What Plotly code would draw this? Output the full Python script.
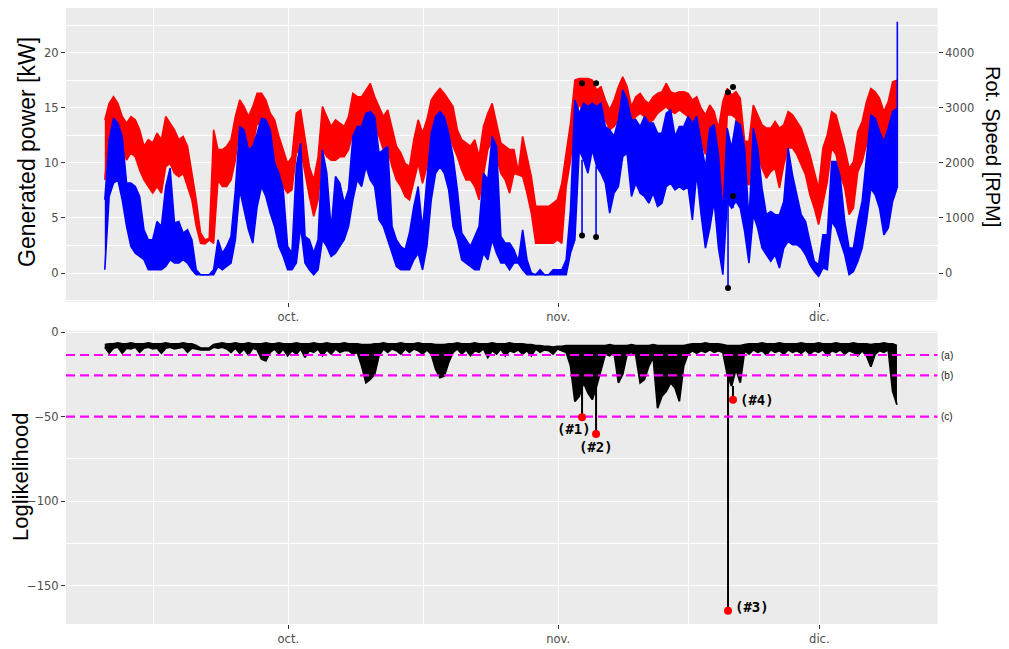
import numpy as np
import pandas as pd
import plotly.graph_objects as go

# ---------------------------------------------------------------------------
# Data: 12-hourly envelope (max / min) of the 10-minute turbine records
# ---------------------------------------------------------------------------
start = "2018-09-09 22:00"
n_steps = 183
times = pd.date_range(start, periods=n_steps, freq="12h")

# Generated power [kW]
power_hi = [
    6.65, 12.08, 14.05, 13.60, 12.39, 8.16, 8.16, 7.85, 6.95, 3.93,
    3.02, 3.02, 4.68, 4.23, 7.85, 9.52, 4.53, 4.68, 3.63, 3.93,
    3.02, 0.30, -0.15, -0.15, -0.15, 0.30, 3.02, 1.81, 2.42, 3.32,
    7.55, 13.29, 12.99, 11.18, 11.48, 12.69, 14.05, 13.90, 12.99, 9.97,
    9.06, 7.55, 2.42, 1.81, 9.67,
    11.78, 3.32, 3.02, 1.81, 3.02, 11.18, 9.06, 3.93, 8.76, 8.16,
    6.34, 7.55, 12.39, 13.29, 13.29, 14.50, 14.65, 14.20, 10.88, 11.18,
    11.48, 4.23, 3.02, 2.42, 2.11, 3.63, 6.04, 7.85, 3.93, 8.46,
    12.69, 14.20, 14.65, 14.20, 12.69, 10.57, 7.55, 3.63, 3.02, 2.42,
    3.32, 4.23, 9.06, 8.46, 12.39, 11.48,
    3.32, 2.72, 2.72, 2.11, 1.06, 3.93, 1.21, 0.00, -0.15, 0.30,
    -0.15, -0.15, 0.30, 0.30, 0.30, 1.21, 5.74, 15.71, 14.50, 15.41,
    15.11, 15.41, 15.11, 15.41, 13.29, 12.99, 12.39, 13.90, 16.62, 15.71,
    13.90, 13.90, 13.29, 14.20, 13.60, 13.60, 12.69, 12.69, 14.50, 14.80,
    12.39, 13.29, 13.29, 14.20, 13.60, 14.20,
    11.93, 9.52, 13.14, 13.44, 10.73, 5.29, 13.14, 11.33, 13.75, 13.44,
    11.33, 4.68, 13.14, 11.33, 7.70, 5.29, 5.59, 5.29, 5.29, 6.50,
    11.33, 8.91, 7.10, 5.29, 4.68, 2.87, 1.06, 0.76, 3.47, 3.47,
    10.12, 10.12, 8.61, 4.68, 2.27, 2.27, 4.68, 6.50, 10.73, 14.35,
    14.05, 12.84, 11.93, 13.14, 14.65, 14.95,
]
power_lo = [
    0.30, 6.95, 8.16, 8.46, 6.65, 4.23, 2.42, 1.81, 1.51, 1.21,
    0.30, 0.30, 0.30, 0.30, 0.60, 1.21, 0.91, 0.91, 1.21, 0.91,
    0.30, -0.15, -0.15, -0.15, -0.15, -0.15, 0.60, 0.30, 0.60, 0.91,
    3.02, 7.55, 5.74, 3.93, 2.72, 6.04, 7.85, 6.95, 5.44, 4.23,
    2.42, 1.51, 0.30, 0.30, 0.91,
    4.23, 0.91, 0.30, -0.15, 0.30, 3.02, 2.42, 1.51, 1.81, 2.42,
    3.02, 4.23, 6.65, 8.46, 7.85, 9.67, 8.46, 7.85, 4.83, 4.23,
    3.02, 1.81, 0.60, 0.30, 0.30, 0.30, 1.21, 1.81, 0.30, 2.42,
    6.65, 9.06, 9.67, 9.06, 7.55, 4.23, 3.02, 1.21, 0.91, 0.60,
    0.30, 0.30, 1.81, 1.21, 3.02, 1.81,
    0.91, 0.91, 0.30, 0.91, 0.91, 0.30, -0.15, -0.15, -0.15, -0.15,
    -0.15, -0.15, -0.15, -0.15, -0.15, -0.15, 1.81, 3.02, 11.18, 10.27,
    9.06, 11.18, 9.67, 9.06, 8.16, 5.44, 7.25, 7.85, 10.57, 10.88,
    6.95, 8.16, 7.25, 6.95, 6.34, 7.25, 6.04, 6.34, 7.85, 8.16,
    7.55, 7.85, 7.55, 7.85, 4.83, 9.06,
    5.29, 2.27, 4.08, 6.50, 2.27, -0.15, 6.50, 5.89, 6.50, 5.89,
    3.78, 0.91, 5.29, 4.08, 2.27, 1.66, 1.06, 1.66, 0.45, 2.27,
    2.87, 2.57, 2.57, 2.27, 1.66, 0.76, 0.15, -0.30, 0.45, 0.30,
    4.68, 4.08, 2.87, 1.66, -0.15, 0.15, 1.06, 2.27, 4.68, 7.70,
    7.10, 5.89, 3.47, 4.08, 6.50, 7.70,
]

# Rotor speed [RPM]
speed_hi = [
    2780, 3080, 3200, 3080, 2840, 2720, 2840, 2780, 2600, 2300,
    2420, 2360, 2540, 2420, 2840, 2720, 2600, 2420, 2480, 2300,
    1810, 1330, 730, 600, 630, 2600, 2240, 2240, 2300, 2420,
    2840, 3140, 3020, 2840, 3020, 3260, 3260, 3140, 2900, 2780,
    2480, 2240, 1990, 2110, 2900,
    2960, 2420, 1930, 1690, 2110, 3020, 2840, 2660, 2780, 2720,
    2660, 2840, 3260, 3200, 3200, 3320, 3440, 3200, 3020, 2840,
    2960, 2600, 2300, 2180, 1990, 1930, 2420, 2780, 2540, 2780,
    3140, 3260, 3350, 3260, 3140, 3020, 2600, 2420, 2360, 2300,
    2420, 2110, 2660, 2900, 3080, 2720,
    2360, 2300, 2240, 2240, 1840, 2480, 2110, 1750, 1210, 1210,
    1210, 1210, 1270, 1330, 1630, 2180, 2720, 3500, 3530, 3530,
    3530, 3500, 3320, 3380, 3140, 2960, 3140, 3380, 3560, 3380,
    3020, 3200, 3260, 3140, 3080, 3200, 3260, 3290, 3440, 3290,
    3260, 3290, 3290, 3260, 3140, 3200,
    2990, 2870, 3050, 2930, 2630, 3110, 3350, 3230, 3290, 3170,
    2390, 2390, 3050, 2870, 2690, 2630, 2630, 2750, 2630, 2690,
    2930, 2870, 2750, 2630, 2390, 2150, 1840, 1540, 2270, 2510,
    2930, 2870, 2570, 2270, 1900, 2020, 2570, 2750, 3110, 3350,
    3290, 3170, 2930, 3110, 3470, 3500,
]
speed_lo = [
    1690, 2540, 2720, 2600, 2300, 2050, 2180, 2110, 1870, 1690,
    1570, 1450, 1570, 1450, 1930, 1990, 1810, 1750, 1810, 1570,
    1330, 850, 540, 530, 600, 540, 1690, 1570, 1570, 1690,
    2050, 2720, 2420, 2240, 2300, 2720, 2660, 2540, 2240, 2110,
    1690, 1570, 1450, 1510, 2180,
    2240, 1810, 1390, 1030, 1330, 2240, 2110, 2050, 2050, 2110,
    2110, 2240, 2540, 2600, 2660, 2840, 2960, 2660, 2480, 2240,
    2240, 1930, 1690, 1570, 1390, 1330, 1690, 1990, 1630, 1930,
    2480, 2660, 2840, 2720, 2540, 2300, 2110, 1870, 1690, 1690,
    1570, 1330, 1750, 2240, 2420, 2110,
    1810, 1690, 1450, 1810, 1780, 1750, 1450, 1090, 540, 540,
    540, 540, 540, 600, 540, 1570, 2050, 2720, 3080, 2900,
    2960, 3020, 2780, 2900, 2780, 2600, 2660, 2780, 3020, 2960,
    2660, 2840, 2900, 2840, 2720, 2780, 2900, 2960, 3020, 2930,
    2900, 2960, 2900, 2840, 2720, 2660,
    2390, 2150, 2510, 2390, 1840, 1180, 2870, 2870, 2810, 2390,
    1660, 1600, 2270, 2150, 1900, 1720, 1840, 1900, 1540, 1960,
    2270, 2270, 2150, 1960, 1780, 1420, 1180, 880, 1300, 1660,
    2270, 2150, 1780, 1540, 1060, 1180, 1840, 2020, 2330, 2690,
    2630, 2390, 2210, 2390, 2870, 2870,
]

# Model log-likelihood
loglik_hi = [
    -7.5, -7, -7, -6.5, -7, -7, -6.5, -7, -7, -7,
    -6.5, -7, -7, -7, -6.5, -7, -7, -7, -6.5, -7,
    -7, -8, -9.5, -9.5, -9.5, -7.5, -7, -6.5, -7, -7,
    -6.5, -7, -7, -6.5, -7, -7, -7, -6.5, -7, -7,
    -6.5, -7, -7, -7, -6.5, -7, -7, -7, -6.5, -7,
    -7, -6.5, -7, -7, -7, -6.5, -7, -7, -7, -7.5,
    -7.5, -7.5, -7, -7, -6.5, -7, -7, -7, -6.5, -7,
    -7, -7, -6.5, -7, -7, -7, -7.5, -7.5, -7.5, -7,
    -7, -6.5, -7, -7, -7, -6.5, -7, -7, -7, -6.5,
    -7, -7, -7, -6.5, -7, -7, -7, -7.5, -7.5, -8,
    -8, -8.5, -8.5, -9, -8.5, -8.5, -8, -8, -8, -8,
    -8, -8, -8, -8, -8, -8, -7.5, -8, -8, -8,
    -8, -7.5, -8, -8, -8, -8, -7.5, -8, -8, -8,
    -8, -8, -8, -8, -7.5, -7, -7, -7, -6.5, -7,
    -7, -7, -7.5, -8, -8, -8, -8, -7.5, -7, -7,
    -7, -6.5, -7, -7, -7, -6.5, -7, -7, -7, -7,
    -6.5, -7, -7, -7, -6.5, -7, -7, -7, -6.5, -7,
    -7, -7, -6.5, -7, -7, -7, -7.5, -7, -7, -6.5,
    -7, -7, -8,
]
loglik_lo = [
    -9, -12.5, -9.5, -9, -12.5, -9.5, -10, -9, -12, -9.5,
    -9, -10, -9.5, -12.5, -9.5, -9, -10, -9.5, -9, -12,
    -9.5, -10, -10.5, -10.5, -10.5, -9, -9.5, -9, -10, -12,
    -9.5, -12.5, -10, -13.5, -9.5, -10.5, -16, -17, -12, -10,
    -13, -10, -14, -11, -13, -10, -15, -11, -12, -10,
    -14, -10.5, -13, -10, -12, -11, -11, -13, -12, -20,
    -30, -28, -25, -14, -10, -12, -10, -11, -13, -10,
    -12, -10, -11, -13, -10.5, -13, -22, -27, -26, -18,
    -12, -10, -13, -10.5, -14, -11, -12, -10, -15, -11,
    -13, -10, -14, -11, -12, -10.5, -13, -11, -14, -10,
    -12, -10.5, -11, -13, -10, -11, -12, -20, -41, -38,
    -30, -36, -40, -32, -22.5, -13, -14, -12, -30, -25,
    -13, -12, -14, -30, -28, -20, -15, -45, -38, -35,
    -30, -33, -41, -20, -13, -11, -12.5, -11, -12, -10.5,
    -12, -11, -12, -25, -32, -22, -30, -11, -13, -10.5,
    -12, -11, -13.5, -10.5, -12, -11, -13, -10.5, -12, -11,
    -12.5, -10.5, -13, -11, -12, -10.5, -14, -11, -12, -10.5,
    -13, -11, -12, -14, -11, -14, -20.5, -13, -11, -12,
    -10.5, -35, -43,
]

# Flagged anomalies
anom_time = ["2018-11-03 17:45", "2018-11-05 08:25",
             "2018-11-20 12:15", "2018-11-21 02:00"]
anom_power = [3.41, 3.26, -1.36, 6.98]
anom_speed = [3445, 3445, 3282, 3378]
anom_loglik = [-50.4, -60.3, -164.8, -40.0]
anom_label = ["(#1)", "(#2)", "(#3)", "(#4)"]

# Last power record (sensor peak)
peak_time = "2018-12-09 23:00"
peak_power = 22.8

# Alarm thresholds on the log-likelihood
thresholds = [-13.6, -25.6, -50.0]
threshold_labels = ["(a)", "(b)", "(c)"]

# Axis ticks
month_ticks = ["2018-10-01", "2018-11-01", "2018-12-01"]
month_labels = ["oct.", "nov.", "dic."]
month_minor = ["2018-09-15 12:00", "2018-10-16 12:00", "2018-11-16"]
power_ticks = [0, 5, 10, 15, 20]
power_minor = [-2.5, 2.5, 7.5, 12.5, 17.5, 22.5]
speed_ticks = [0, 1000, 2000, 3000, 4000]
loglik_ticks = [0, -50, -100, -150]
loglik_minor = [-25, -75, -125]

for arr in (power_hi, power_lo, speed_hi, speed_lo, loglik_hi, loglik_lo):
    assert len(arr) == n_steps, len(arr)

# ---------------------------------------------------------------------------
# Figure
# ---------------------------------------------------------------------------
W, H = 1009, 649
X_RANGE = ["2018-09-05 11:00", "2018-12-14 14:20"]
X_DOM = [66 / W, 937.7 / W]
TOP_DOM = [1 - 301.7 / H, 1 - 8 / H]
BOT_DOM = [1 - 624 / H, 1 - 330.7 / H]
KW_RANGE = [-2.6, 24.05]
RPM_RANGE = [-520, 4810]
LL_RANGE = [-172.7, 0.77]

BLUE, RED, BLACK, MAGENTA = "#0000FF", "#FF0000", "#000000", "#FF00FF"
FONT = "Liberation Sans, Arial, sans-serif"
TICK_FONT = dict(family="DejaVu Sans, sans-serif", size=11.5, color="#4D4D4D")

fig = go.Figure()


def add_band(x, hi, lo, color, xa, ya, width=1.6):
    fig.add_trace(go.Scatter(x=x, y=hi, mode="lines", xaxis=xa, yaxis=ya,
                             line=dict(color=color, width=width),
                             showlegend=False, hoverinfo="skip"))
    fig.add_trace(go.Scatter(x=x, y=lo, mode="lines", xaxis=xa, yaxis=ya,
                             line=dict(color=color, width=width),
                             fill="tonexty", fillcolor=color,
                             showlegend=False, hoverinfo="skip"))


def nearest(ts):
    return int(np.argmin(np.abs(times - pd.Timestamp(ts))))


# --- top panel: rotor speed (base axis, right) -----------------------------
add_band(times, speed_hi, speed_lo, RED, "x", "y")
fig.add_trace(go.Scatter(x=anom_time, y=anom_speed, mode="markers",
                         xaxis="x", yaxis="y",
                         marker=dict(color=BLACK, size=6),
                         showlegend=False, hoverinfo="skip"))

# --- top panel: generated power (overlay axis, left) -----------------------
add_band(times, power_hi, power_lo, BLUE, "x", "y2")
sx, sy = [], []
for ts, p in zip(anom_time, anom_power):
    k = nearest(ts)
    sx += [ts, ts, None]
    sy += [power_lo[k], p, None]
sx += [peak_time, peak_time]
sy += [power_lo[-1], peak_power]
fig.add_trace(go.Scatter(x=sx, y=sy, mode="lines", xaxis="x", yaxis="y2",
                         line=dict(color=BLUE, width=1.6),
                         showlegend=False, hoverinfo="skip"))
fig.add_trace(go.Scatter(x=anom_time, y=anom_power, mode="markers",
                         xaxis="x", yaxis="y2",
                         marker=dict(color=BLACK, size=6),
                         showlegend=False, hoverinfo="skip"))

# --- bottom panel: log-likelihood -----------------------------------------
add_band(times, loglik_hi, loglik_lo, BLACK, "x2", "y3", width=1.8)
lx, ly = [], []
for ts, v in zip(anom_time, anom_loglik):
    k = nearest(ts)
    lx += [ts, ts, None]
    ly += [loglik_lo[k], v, None]
fig.add_trace(go.Scatter(x=lx, y=ly, mode="lines", xaxis="x2", yaxis="y3",
                         line=dict(color=BLACK, width=2),
                         showlegend=False, hoverinfo="skip"))
for thr in thresholds:
    fig.add_trace(go.Scatter(x=X_RANGE, y=[thr, thr], mode="lines",
                             xaxis="x2", yaxis="y3",
                             line=dict(color=MAGENTA, width=2.2, dash="9px,5px"),
                             showlegend=False, hoverinfo="skip"))
fig.add_trace(go.Scatter(x=anom_time, y=anom_loglik, mode="markers",
                         xaxis="x2", yaxis="y3",
                         marker=dict(color=RED, size=8),
                         showlegend=False, hoverinfo="skip"))

# --- annotations -----------------------------------------------------------
label_pos = [  # (xanchor, xshift, yshift)
    ("center", -8, -12),
    ("center", 0, -13),
    ("left", 5, 4),
    ("left", 5, 0),
]
ann = []
for ts, v, txt, (xa, dx, dy) in zip(anom_time, anom_loglik, anom_label, label_pos):
    ann.append(dict(x=ts, y=v, xref="x2", yref="y3", text=f"<b>{txt}</b>",
                    showarrow=False, xanchor=xa, yanchor="middle",
                    xshift=dx, yshift=dy,
                    font=dict(family="DejaVu Sans Mono, monospace", size=14,
                              color=BLACK)))
for thr, txt in zip(thresholds, threshold_labels):
    ann.append(dict(x=938.5 / W, y=thr, xref="paper", yref="y3", text=txt,
                    showarrow=False, xanchor="left", yanchor="middle",
                    font=dict(family=FONT, size=10, color="#1A1A1A")))

ann += [
    dict(x=27 / W, y=1 - 152 / H, xref="paper", yref="paper",
         text="Generated power [kW]", textangle=-90, showarrow=False,
         xanchor="center", yanchor="middle",
         font=dict(family=FONT, size=23, color=BLACK)),
    dict(x=993 / W, y=1 - 146 / H, xref="paper", yref="paper",
         text="Rot. Speed [RPM]", textangle=90, showarrow=False,
         xanchor="center", yanchor="middle",
         font=dict(family=FONT, size=20, color=BLACK)),
    dict(x=20 / W, y=1 - 477 / H, xref="paper", yref="paper",
         text="Loglikelihood", textangle=-90, showarrow=False,
         xanchor="center", yanchor="middle",
         font=dict(family=FONT, size=22, color=BLACK)),
]

grid_major = dict(showgrid=True, gridcolor="white", gridwidth=1.2)
minor_grid = dict(showgrid=True, gridcolor="white", gridwidth=0.6, ticks="")
tick_style = dict(ticks="outside", ticklen=4, tickwidth=1.1, tickcolor="#333333",
                  tickfont=TICK_FONT, zeroline=False, showline=False,
                  automargin=False)

x_common = dict(type="date", range=X_RANGE, domain=X_DOM,
                tickmode="array", tickvals=month_ticks, ticktext=month_labels,
                minor=dict(tickvals=month_minor, **minor_grid),
                **grid_major, **tick_style)

fig.update_layout(
    width=W, height=H,
    margin=dict(l=0, r=0, t=0, b=0),
    template="none",
    paper_bgcolor="white",
    plot_bgcolor="#EBEBEB",
    showlegend=False,
    xaxis=dict(anchor="y", **x_common),
    yaxis=dict(domain=TOP_DOM, anchor="x", side="right", range=RPM_RANGE,
               tickmode="array", tickvals=speed_ticks, showgrid=False,
               **tick_style),
    yaxis2=dict(overlaying="y", anchor="x", side="left", range=KW_RANGE,
                tickmode="array", tickvals=power_ticks,
                minor=dict(tickvals=power_minor, **minor_grid),
                **grid_major, **tick_style),
    xaxis2=dict(anchor="y3", **x_common),
    yaxis3=dict(domain=BOT_DOM, anchor="x2", range=LL_RANGE,
                tickmode="array", tickvals=loglik_ticks,
                minor=dict(tickvals=loglik_minor, **minor_grid),
                **grid_major, **tick_style),
    annotations=ann,
)

fig.write_html("out.html")
